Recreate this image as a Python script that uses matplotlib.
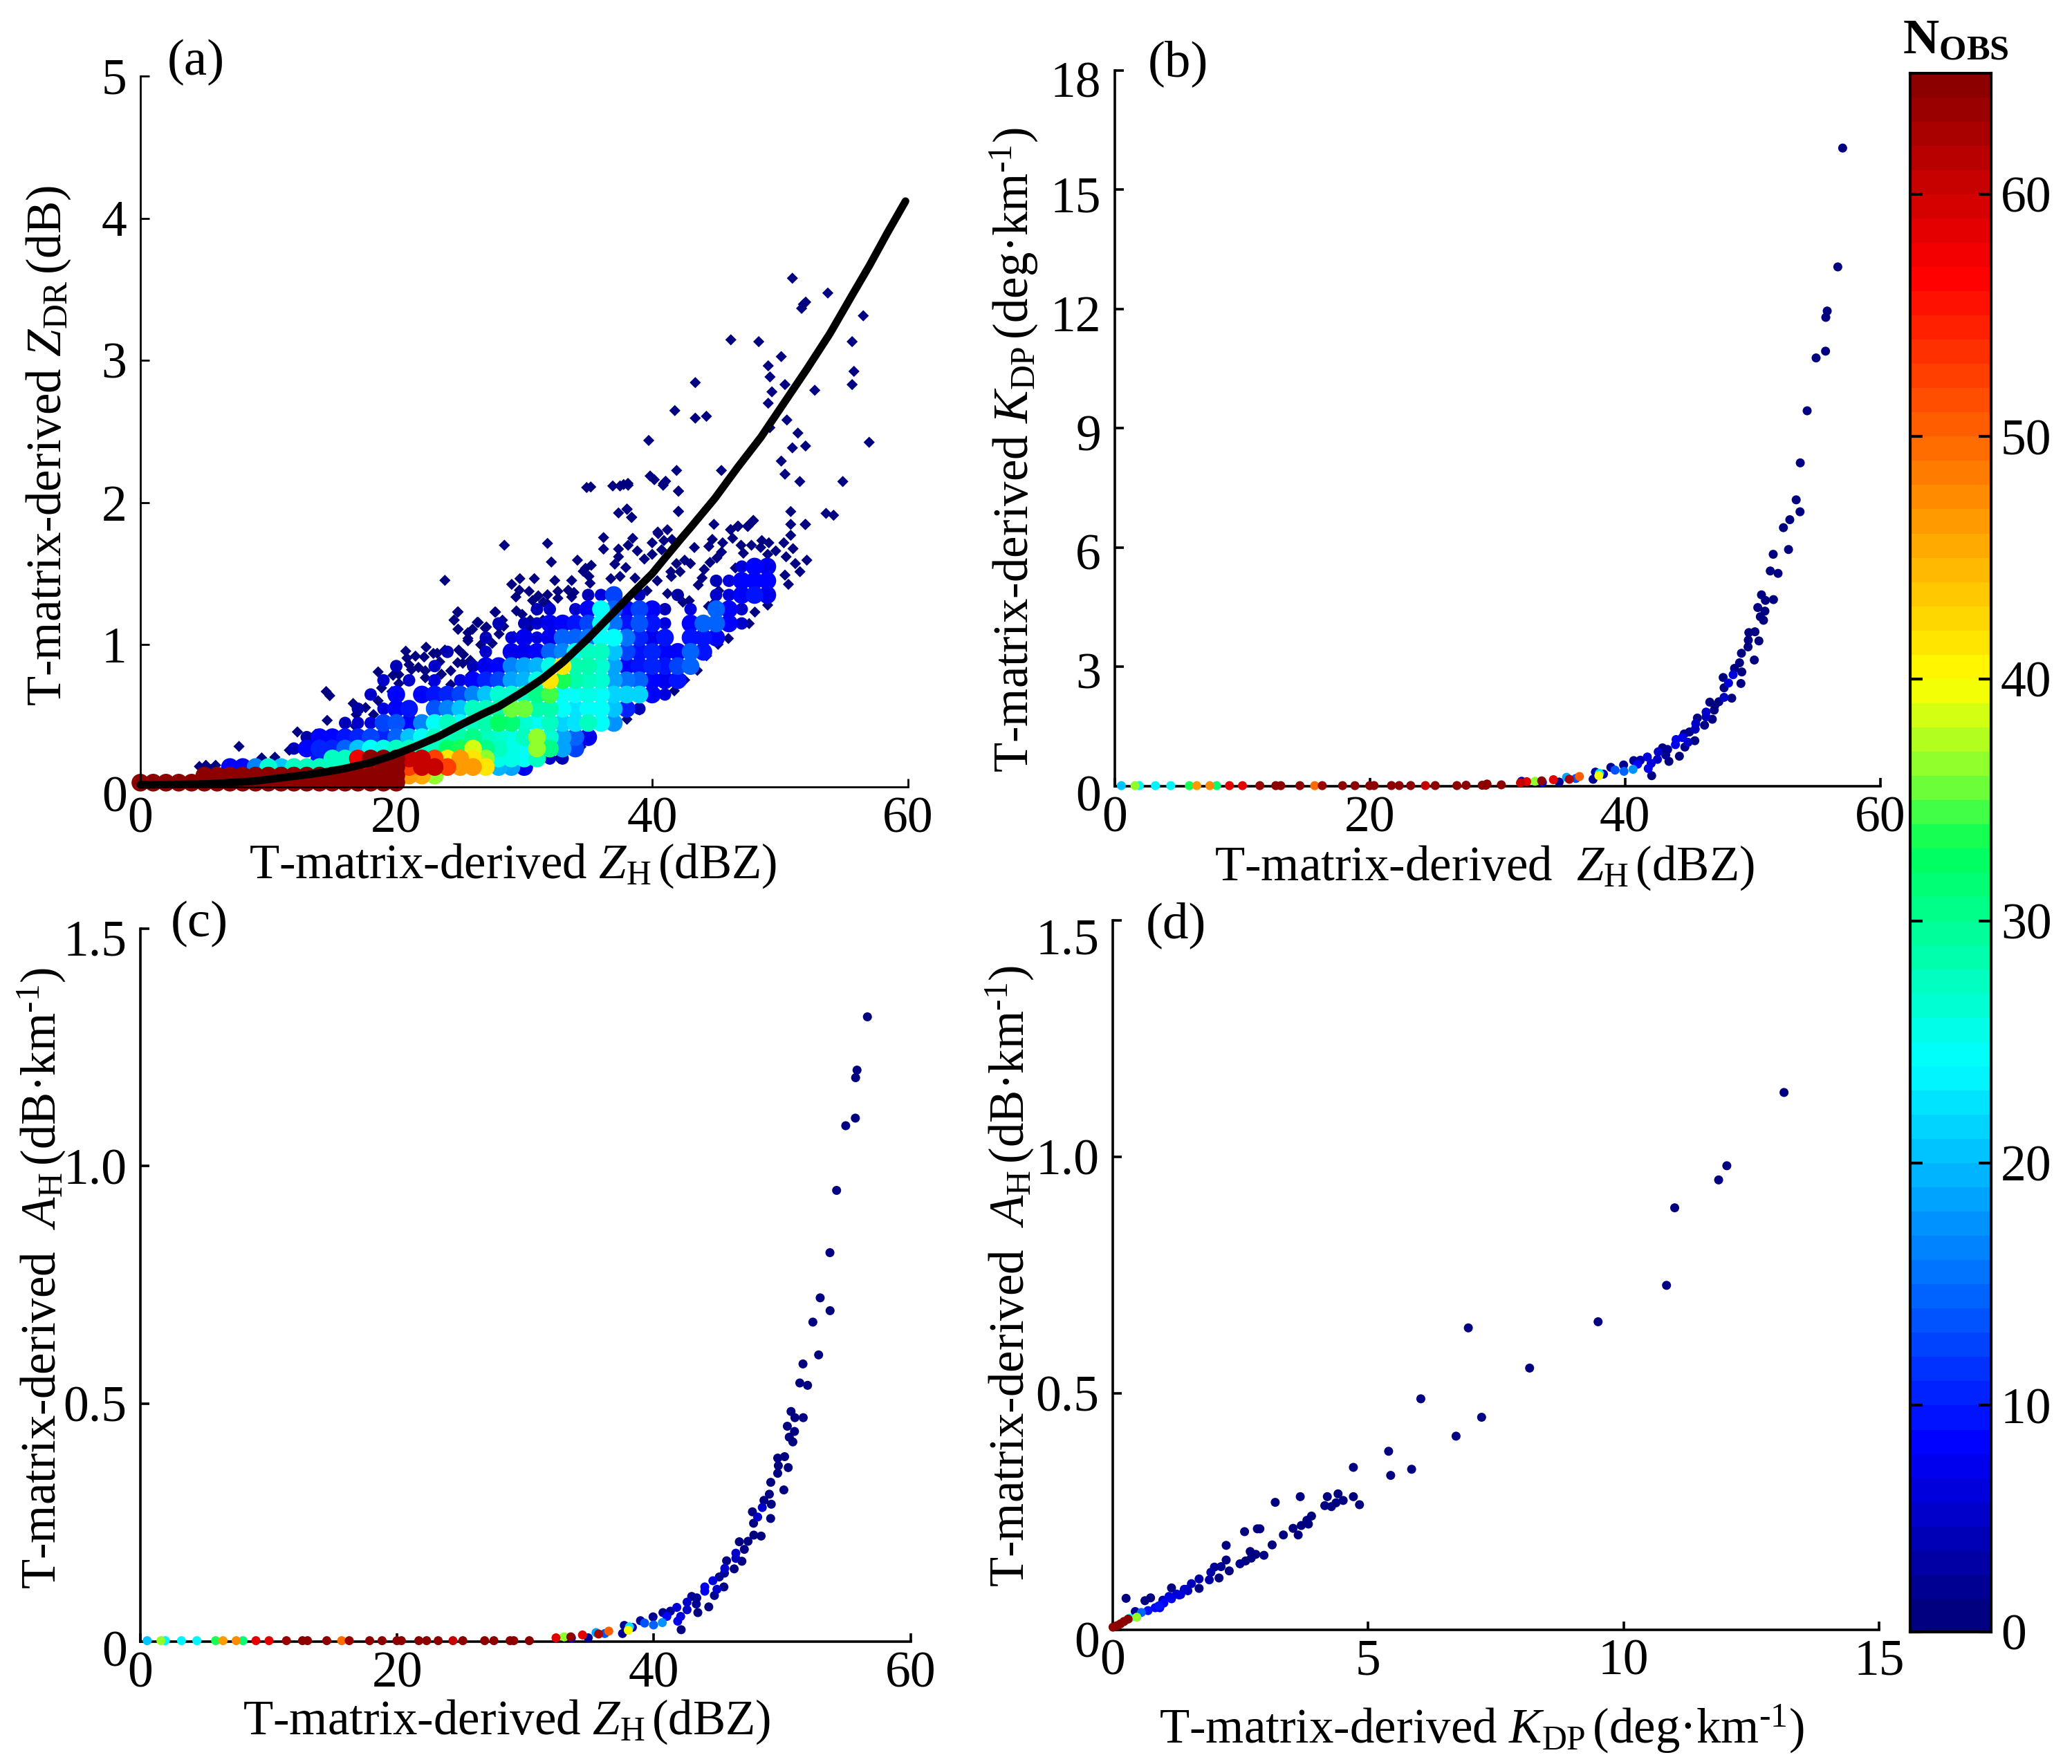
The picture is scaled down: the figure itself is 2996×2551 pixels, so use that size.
import numpy as np
import matplotlib
matplotlib.use('Agg')
import matplotlib.pyplot as plt
from matplotlib.colors import LinearSegmentedColormap
from matplotlib.transforms import ScaledTranslation

plt.rcParams['font.family'] = ['Liberation Serif', 'DejaVu Sans']
plt.rcParams['mathtext.fontset'] = 'custom'
plt.rcParams['mathtext.rm'] = 'Liberation Serif'
plt.rcParams['mathtext.it'] = 'Liberation Serif:italic'
plt.rcParams['mathtext.bf'] = 'Liberation Serif:bold'

W, H = 2996, 2551

# ---------- panel (a): mean relation ----------
curve_zh = [0, 5, 8.85, 10.65, 13.35, 14.8, 16, 17.9, 19.66, 21.5, 23.3, 25.1, 26.9, 28, 30, 31.4, 33, 35, 36.8, 38.6,
            40, 41, 42.2, 43.1, 44.9, 46.7, 48.5, 50.3, 52.1, 53.9, 55.7, 57, 58.4, 59.8]
curve_zdr = [.015, .02, .04, .06, .09, .11, .13, .169, .22, .285, .355, .44, .52, .565, .675, .76, .875, 1.045, 1.21,
             1.375, 1.5, 1.61, 1.74, 1.835, 2.03, 2.25, 2.46, 2.70, 2.94, 3.19, 3.47, 3.67, 3.90, 4.12]

# ---------- panel (a): dense cloud, NOBS read per 1 dBZ column along ZDR rows ----------
r01 = [65]*21
r02 = [65]*16 + [46, 45, 36]
r03 = [8, 8, 16, 26, 20, 27, 27, 27, 27, 27, 57, 57, 65, 65, 52, 60, 60, 52, 46, 46, 41, 19, 18, 7]
r04 = [9, 27, 27, 57, 65, 65, 65, 60, 60, 52, 41, 46, 41, 36, 25, 25, 24, 27, 5, 4]
r05 = [4, 8, 10, 10, 14, 20, 24, 25, 27, 27, 27, 27, 32, 33, 38, 30, 27, 25, 24, 36, 30, 18, 12]
r06 = [3, 8, 8, 9, 10, 12, 10, 14, 20, 24, 27, 27, 28, 30, 27, 26, 25, 27, 36, 26, 18, 14, 7]
r07 = [4, 5, 6, 12, 13, 8, 16, 24, 27, 24, 27, 28, 32, 31, 26, 24, 27, 21, 22, 27, 24, 17]
r08 = [3, 0, 6, 8, 9, 0, 13, 16, 20, 27, 27, 28, 35, 35, 28, 28, 24, 22, 24, 24, 20, 10, 4]
r09 = [5, 0, 8, 0, 8, 9, 10, 12, 16, 20, 26, 26, 27, 30, 34, 24, 24, 25, 24, 21, 21, 21, 8, 6]
r10 = [5, 0, 5, 0, 6, 0, 6, 8, 10, 12, 18, 19, 25, 41, 33, 28, 27, 26, 18, 15, 14, 8, 7, 9]
r11 = [4, 0, 0, 5, 0, 0, 4, 7, 8, 16, 18, 19, 25, 41, 28, 28, 26, 18, 8, 9, 10, 9, 12, 14]
r12 = [4, 0, 0, 5, 0, 7, 7, 8, 14, 16, 24, 27, 27, 20, 12, 9, 10, 8, 8, 14, 9]
r13 = [4, 0, 6, 7, 6, 7, 14, 14, 15, 24, 24, 15, 10, 7, 9, 0, 9, 9, 8]
r14 = [4, 0, 4, 5, 7, 8, 9, 12, 24, 15, 9, 13, 9, 6, 0, 8, 14, 14, 8, 5]
r15 = [4, 5, 0, 5, 8, 24, 14, 8, 12, 8, 4, 0, 6, 0, 14, 8, 5]
r16 = [4, 6, 12, 0, 4, 0, 0, 3, 0, 0, 5, 6, 8, 9, 7]
r17 = [4, 6, 8, 8, 8]
r18 = [6, 8, 7]
cloud_rows = [r01, r02, r03, r04, r05, r06, r07, r08, r09, r10, r11, r12, r13, r14, r15, r16, r17, r18]
cloud_zdr = [.03, .08, .14, .2, .27, .35, .45, .55, .65, .75, .85, .95, 1.05, 1.15, 1.25, 1.35, 1.45, 1.55]
cloud_zh0 = [0, 5, 7, 14, 12, 13, 16, 17, 18, 19, 20, 24, 27, 28, 31, 35, 45, 47]

# ---------- panel (a): sparse points (NOBS 1-2) ----------
sparse_zh = [50.96, 53.73, 52.0, 51.82, 51.68, 56.5, 46.15, 48.33, 55.63, 50.09, 49.07, 49.21, 55.77, 50.38, 55.63,
             43.37, 49.36, 52.71, 49.07, 41.77, 43.37, 44.24, 50.53, 49.2, 51.39, 39.73, 56.96, 50.96, 51.99, 50.09,
             41.91, 45.41, 50.38, 51.54, 54.9, 39.84, 40.17, 40.89, 41.05, 42.06, 38.11, 37.77, 38.04, 38.4, 42.06,
             50.83, 50.83, 51.99, 53.59, 54.18, 47.9, 47.45, 46.73, 46.13, 44.83, 41.19, 40.44,
             34.88, 35.2, 36.92, 37.49, 38.12, 40.86, 42.05, 38.03, 37.37, 38.39, 42.05, 47.91, 47.49, 46.68, 46.14,
             46.29, 40.47, 51.96, 50.83, 36.2, 36.2, 38.48, 38.84, 38.12, 37.37, 37.37, 28.45, 31.82, 32.12, 34.16,
             35.24, 34.79, 37.08, 37.94, 40.92, 41.55, 40.0, 40.74, 40.0, 39.39, 43.3, 44.43, 44.7, 45.51, 45.42,
             45.06, 44.52, 44.07, 42.54, 42.99, 41.9, 42.18, 41.46, 46.95, 47.76, 48.57, 49.12, 48.48, 50.29, 51.01,
             49.66, 49.03, 50.47, 47.13, 52.09, 51.19, 51.55, 50.38, 50.65, 49.03, 48.03, 47.58, 45.96, 45.15, 44.25,
             43.53, 42.54, 41.73, 40.38, 39.02, 38.03, 34.43, 32.72, 33.17,
             29.02, 29.66, 30.79, 32.39, 33.71, 30.38, 29.62, 29.35, 31.1, 30.65, 31.82, 31.82, 32.63, 32.63, 33.44,
             33.89, 33.71, 35.15, 35.06, 34.61, 36.77, 37.49, 38.66, 24.79, 24.52, 24.83, 27.76, 28.3, 28.03, 26.41,
             25.96, 26.95, 25.6, 29.39, 29.84, 30.92, 30.47, 31.46, 28.03,
             23.8, 24.83, 24.52, 24.83, 14.52, 14.8, 16.63, 14.6, 12.27, 7.71, 9.48, 10.51, 11.64, 12.63, 13.44,
             13.71, 14.7, 13.35, 15.97, 15.6, 4.61, 5.12, 5.88, 5.52, 7.01, 7.86, 8.49, 18.58, 19.75, 20.2, 18.85,
             19.66, 20.74, 20.83, 22.33, 22.18, 22.9, 23.8, 24.88, 25.79, 24.8, 25.25, 21.19, 21.73, 22.27, 22.27,
             22.9, 23.53, 24.26, 24.26, 25.79, 25.79, 26.33, 27.05, 25.6, 25.6, 27.71, 16.87, 16.78, 17.6, 18.58, 18.22,
             41.2, 42.4, 43.6, 40.4, 44.4, 45.2, 39.6, 41.5, 42.9, 43.9, 44.9, 46.5, 27.5, 29.2, 30.4, 26.6, 28.4, 31.5,
             23.4, 25.2, 26.9, 21.5, 23.2, 21.0, 20.2]
sparse_zdr = [3.578, 3.474, 3.41, 3.395, 3.366, 3.314, 3.145, 3.132, 3.132, 3.027, 2.962, 2.884, 2.923, 2.83, 2.83,
              2.844, 2.779, 2.79, 2.699, 2.647, 2.594, 2.607, 2.581, 2.527, 2.489, 2.437, 2.424, 2.385, 2.398, 2.292,
              2.226, 2.226, 2.2, 2.148, 2.148, 2.187, 2.161, 2.134, 2.15, 2.08, 2.135, 2.127, 1.952, 1.897, 1.937,
              1.937, 1.847, 1.847, 1.924, 1.911, 1.872, 1.834, 1.834, 1.809, 1.847, 1.809, 1.793,
              2.106, 2.11, 2.117, 2.117, 2.122, 2.122, 2.081, 1.955, 1.927, 1.895, 1.939, 1.875, 1.833, 1.833, 1.81,
              1.749, 1.781, 1.846, 1.77, 1.754, 1.673, 1.749, 1.66, 1.7, 1.673, 1.619, 1.7, 1.713, 1.582, 1.595,
              1.559, 1.538, 1.567, 1.543, 1.733, 1.741, 1.717, 1.668, 1.636, 1.603, 1.684, 1.692, 1.741, 1.717, 1.652,
              1.611, 1.579, 1.53, 1.595, 1.571, 1.571, 1.514, 1.514, 1.7, 1.7, 1.733, 1.717, 1.684, 1.717, 1.676,
              1.66, 1.636, 1.619, 1.644, 1.595, 1.571, 1.514, 1.49, 1.425, 1.279, 1.23, 1.149, 1.044, 1.003, .922,
              .82, .752, .676, .663, .541, .476, .282, .201, .257,
              1.425, 1.465, 1.465, 1.452, 1.452, 1.376, 1.384, 1.336, 1.344, 1.311, 1.352, 1.287, 1.376, 1.327, 1.384,
              1.368, 1.336, 1.433, 1.481, 1.517, 1.465, 1.481, 1.469, 1.23, 1.173, 1.109, 1.23, 1.173, 1.125, 1.157,
              1.109, 1.117, 1.044, 1.238, 1.214, 1.242, 1.173, 1.173, 1.076,
              1.453, 1.231, 1.174, 1.109, .671, .642, .587, .468, .387, .285, .204, .209, .258, .258, .347,
              .371, .355, .298, .387, .327, .144, .152, .152, .123, .136, .144, .133, .809, .785, .728, .696,
              .671, .955, .906, .983, .914, .939, .963, .963, .89, .874, .931, .825, .841, .817, .768,
              .728, .793, .817, .72, .785, .72, 1.158, 1.125, 1.085, 1.028, 1.23, .509, .428, .558, .606, .509,
              1.36, 1.3, 1.42, 1.45, 1.27, 1.38, 1.38, 1.48, 1.31, 1.47, 1.3, 1.54, 1.01, 1.06, 1.12, 1.0, 1.13, 1.3,
              .88, .87, .95, .92, .94, .86, .79]

# ---------- near-zero points shared by (b) and (c) ----------
low_zh = [.53, 1.6, 1.94, 3.2, 4.4, 5.86, 6.44, 7.46, 7.99, 9.0, 10.02, 11.38, 12.63, 13.02, 14.52, 15.68, 16.27,
          17.86, 18.83, 19.99, 20.33, 21.69, 22.3, 23.2, 24.35, 25.12, 26.82, 27.54, 28.8, 29.09, 30.3]
low_nobs = [20, 36, 23, 23, 23, 33, 46, 47, 31, 58, 58, 63, 64, 65, 65, 49, 63, 64, 64, 65, 65, 64, 64, 64, 60, 64,
            64, 64, 65, 65, 64]
low_kdp = [.01]*20 + [.012]*7 + [.02, .02, .02, .03]
low_ah = [.002]*31

# ---------- panel (b) ----------
b_zh = [57.04, 56.66, 55.83, 55.72, 55.7, 54.96, 54.26, 53.72, 53.4, 52.9, 53.7, 52.4, 52.8, 51.6, 51.37, 51.98, 50.68,
        50.99, 51.62, 50.39, 50.95,
        50.59, 50.84, 49.69, 50.17, 49.65, 50.48, 49.63, 49.11, 50.12, 48.96, 48.57, 49.14, 48.46, 47.68, 48.1, 49.07,
        47.75, 47.75, 48.35, 47.34, 46.63, 47.03, 46.98, 46.34, 46.34, 46.83, 45.66, 45.53, 46.22, 45.49, 45.04, 44.63,
        44.48, 43.99, 43.94, 44.93, 45.46, 44.68, 42.93, 43.33, 42.59, 43.18, 42.53, 43.43, 44.25, 41.74, 41.19, 40.67,
        40.98, 42.04, 41.81, 42.08, 39.88, 38.88, 39.21, 39.91, 40.62, 38.3, 37.67, 37.49, 37.98, 37.94, 36.42, 36.14,
        35.41, 35.63, 34.38, 34.83, 33.52, 33.46, 32.94, 32.29, 31.89, 31.8, 29.18]
b_kdp = [16.05, 13.06, 11.95, 11.79, 10.94, 10.77, 9.44, 8.13, 7.2, 6.7, 6.9, 6.5, 5.95, 5.83, 5.41, 5.35, 4.81,
         4.67, 4.69, 4.49, 4.40,
         4.26, 4.17, 3.86, 3.88, 3.67, 3.65, 3.50, 3.34, 3.17, 3.10, 2.96, 2.87, 2.80, 2.73, 2.59, 2.58,
         2.47, 2.23, 2.21, 2.12, 2.11, 2.03, 1.91, 1.86, 1.74, 1.68, 1.71, 1.57, 1.53, 1.43, 1.36, 1.31,
         1.22, 1.17, 1.04, 1.10, 1.14, .98, .96, .92, .86, .78, .67, .62, .75, .73, .65, .64,
         .55, .57, .44, .26, .53, .47, .40, .37, .42, .30, .35, .17, .32, .26, .24, .19,
         .22, .17, .16, .10, .09, .13, .12, .11, .12, .08, .05]
b_nobs = [1, 1, 1, 1, 1, 1, 1, 1, 1, 1, 1, 1, 1, 1, 1, 1, 1, 1, 1, 1, 1,
          1, 1, 1, 1, 1, 1, 1, 1, 1, 1, 1, 1, 6, 1, 6, 1,
          1, 5, 1, 1, 1, 1, 1, 5, 4, 1, 1, 5, 1, 4, 2, 2,
          7, 7, 7, 5, 1, 1, 1, 2, 5, 2, 5, 1, 1, 6, 3, 2,
          8, 6, 7, 1, 2, 2, 13, 14, 17, 4, 3, 2, 22, 39, 50, 13,
          18, 62, 58, 2, 6, 64, 36, 58, 4, 60, 65]

# ---------- panel (c) ----------
c_zh = [56.64, 55.83, 55.72, 55.7, 54.95, 54.24, 53.72, 52.96, 53.73, 52.39, 52.84, 51.62, 51.37, 51.98, 50.69, 50.99,
        51.64, 50.4, 50.96, 50.55, 50.83, 50.19, 49.65, 49.7, 50.47, 49.65, 49.11, 49.0, 50.13, 48.58, 49.15, 48.45,
        47.68, 48.09, 49.1, 47.77, 47.79, 48.36, 46.66, 47.34, 47.05, 46.39, 46.39, 46.86, 45.67, 45.53, 46.26, 45.5,
        45.1, 44.6, 43.97, 43.97, 44.92, 45.46, 44.72, 42.95, 43.35, 42.59, 44.28, 43.31, 42.59, 43.43, 41.79, 41.29,
        40.71, 41.02, 42.09, 41.86, 42.13, 39.94, 38.96, 39.28, 39.98, 40.66, 37.7, 38.33, 37.56, 38.1, 38.01, 36.49,
        36.18, 35.5, 35.7, 34.44, 34.89, 33.58, 33.53, 33.01, 32.38]
c_ah = [1.314, 1.202, 1.186, 1.101, 1.085, .949, .818, .723, .696, .672, .603, .584, .544, .539, .484, .471,
        .471, .453, .442, .43, .42, .389, .386, .37, .366, .354, .335, .31, .319, .297, .289, .282,
        .273, .262, .259, .249, .224, .222, .21, .211, .194, .186, .175, .169, .17, .154, .153, .144,
        .136, .128, .115, .106, .11, .115, .097, .095, .092, .083, .073, .079, .067, .061, .072, .064,
        .061, .053, .053, .043, .025, .052, .044, .039, .035, .04, .034, .03, .017, .031, .024, .022,
        .017, .019, .016, .014, .008, .008, .01, .01, .008]
c_nobs = [1, 1, 1, 1, 1, 1, 1, 1, 1, 1, 1, 1, 1, 1, 1, 1,
          1, 1, 1, 1, 1, 1, 1, 1, 1, 1, 1, 1, 1, 1, 1, 5,
          1, 5, 1, 1, 1, 1, 1, 1, 1, 5, 4, 1, 1, 5, 1, 2,
          2, 6, 7, 7, 5, 1, 2, 2, 2, 5, 1, 2, 5, 1, 6, 2,
          2, 8, 6, 7, 1, 2, 2, 13, 14, 17, 2, 4, 2, 22, 39, 50,
          13, 18, 62, 58, 2, 6, 64, 36, 58]

# ---------- panel (d) ----------
d_kdp = [13.14, 12.02, 11.86, 11.0, 10.84, 9.5, 6.96, 8.16, 6.03, 7.22, 6.72, 5.4, 4.71, 5.85, 5.44, 3.18, 3.67, 4.2,
         4.41, 4.71, 4.83, 4.15, 4.28, 4.37, 4.51, 3.89, 3.8, 3.69, 3.83, 3.53, 3.34, 3.63, 2.83, 2.88, 2.58, 3.12,
         2.22, 2.96, 2.8, 2.69, 2.71, 2.6, 2.49, 2.22, 2.28, 2.12, 1.99, 1.92, 2.08, 1.89, 1.69, 1.54, 1.69, 1.47,
         1.15, 1.33, 1.1, .92, .26, .63, .74, .98, 1.25, 1.4, 1.45, 1.3, 1.15, 1.0, .9,
         .83, .69, .56, .44, .47, .33, .30, .22, .15, .08, .005]
d_ah = [1.136, .981, .951, .892, .728, .651, .638, .553, .488, .449, .409, .377, .343, .339, .326, .269, .281, .281,
        .287, .281, .264, .262, .26, .268, .273, .24, .231, .22, .223, .214, .2, .2, .213, .213, .207, .179,
        .178, .157, .159, .165, .151, .145, .139, .147, .124, .133, .132, .121, .109, .105, .107, .097, .087, .082,
        .088, .074, .07, .046, .066, .061, .067, .062, .075, .085, .085, .073, .065, .056, .05,
        .046, .04, .036, .038, .026, .024, .022, .017, .012, .008, .005]
d_nobs = [1]*42 + [2, 1, 1, 2, 2, 3, 1, 3, 3, 4, 1, 4, 1, 5, 6, 7, 1, 1, 1, 3, 5, 5, 4, 6, 7, 8, 9,
                   8, 9, 14, 2, 36, 24, 65, 65, 65, 65, 65]

cbar_ticks = [0.65, 10, 20, 30, 40, 50, 60]
cbar_labels = ['0', '10', '20', '30', '40', '50', '60']
NOBS_MIN, NOBS_MAX = 1, 65

anchors = [(0, (0, 0, .5)), (7 / 64, (0, 0, 1)), (23 / 64, (0, 1, 1)), (32 / 64, (0, 1, .35)), (35 / 64, (.5, 1, .2)),
           (39 / 64, (1, 1, 0)), (56 / 64, (1, 0, 0)), (1, (.55, 0, 0))]
cmap = LinearSegmentedColormap.from_list('nobs', anchors, N=64)
norm = plt.Normalize(NOBS_MIN, NOBS_MAX)


def axes_px(left, right, top, bottom):
    return fig.add_axes([left / W, 1 - bottom / H, (right - left) / W, (bottom - top) / H])


def style(ax, xlim, ylim, xt, yt, ytl=None, lw=1.3, shifts=None):
    ax.set_xlim(*xlim)
    ax.set_ylim(*ylim)
    ax.set_xticks(xt)
    ax.set_yticks(yt)
    if ytl:
        ax.set_yticklabels(ytl)
    for s in ('top', 'right'):
        ax.spines[s].set_visible(False)
    for s in ('left', 'bottom'):
        ax.spines[s].set_linewidth(lw)
    ax.tick_params(direction='in', length=4.5, width=lw, labelsize=26.5, pad=5)
    ax.tick_params(axis='y', pad=7)
    for lab, off in zip(ax.get_yticklabels(), shifts):
        lab.set_transform(lab.get_transform() + ScaledTranslation(0, -off / 200, fig.dpi_scale_trans))


def dots(ax, x, y, n):
    x, y, n = np.asarray(x), np.asarray(y), np.asarray(n)
    o = np.argsort(n, kind='stable')
    ax.scatter(x[o], y[o], c=n[o], cmap=cmap, norm=norm, s=22, marker='o', linewidths=0, clip_on=False, zorder=3)


def ftext(x, y, s, **kw):
    kw.setdefault('ha', 'center')
    kw.setdefault('va', 'center')
    kw.setdefault('fontsize', 25.5)
    fig.text(x / W, 1 - y / H, s, **kw)


fig = plt.figure(figsize=(W / 200, H / 200), dpi=200)

# (a)
axa = axes_px(203, 1313, 110, 1138)
style(axa, (0, 60), (0, 5), [0, 20, 40, 60], [0, 1, 2, 3, 4, 5], lw=1.0, shifts=[10, 0, 0, 0, 0, 0])
cell_x, cell_y, cell_n = [], [], []
for row, z, start in zip(cloud_rows, cloud_zdr, cloud_zh0):
    for i, v in enumerate(row):
        if v > 0:
            cell_x.append(start + i)
            cell_y.append(z)
            cell_n.append(v)
cell_x, cell_y, cell_n = np.array(cell_x), np.array(cell_y), np.array(cell_n)
order = np.argsort(cell_n, kind='stable')
cell_size = np.where(cell_n[order] <= 6, 42, 85)
axa.scatter(sparse_zh, sparse_zdr, c=[1.8] * len(sparse_zh), cmap=cmap, norm=norm, s=17, marker='D', linewidths=0,
            clip_on=False, zorder=2)
axa.scatter(cell_x[order], cell_y[order], c=cell_n[order], cmap=cmap, norm=norm, s=cell_size, marker='o', linewidths=0,
            clip_on=False, zorder=2.5)
axa.plot(curve_zh, curve_zdr, color='k', lw=4, solid_capstyle='round', solid_joinstyle='round', clip_on=False, zorder=4)

# (b)
axb = axes_px(1611.6, 2719, 102, 1136.7)
style(axb, (0, 60), (0, 18), [0, 20, 40, 60], [0, 3, 6, 9, 12, 15, 18], shifts=[10, 6, 6, 6, 6, 6, 13])
dots(axb, low_zh + b_zh, low_kdp + b_kdp, low_nobs + b_nobs)

# (c)
axc = axes_px(203, 1316.6, 1342.6, 2374)
style(axc, (0, 60), (0, 1.5), [0, 20, 40, 60], [0, .5, 1, 1.5], ['0', '0.5', '1.0', '1.5'], shifts=[10, 0, 0, 13])
dots(axc, low_zh + c_zh, low_ah + c_ah, low_nobs + c_nobs)

# (d)
axd = axes_px(1609, 2717, 1331, 2356.5)
style(axd, (0, 15), (0, 1.5), [0, 5, 10, 15], [0, .5, 1, 1.5], ['0', '0.5', '1.0', '1.5'], shifts=[14, 0, 0, 23])
dots(axd, d_kdp, d_ah, d_nobs)

# colour bar
cax = axes_px(2762, 2879, 106, 2360)
levels = np.array([cbar_ticks[0]] + list(range(NOBS_MIN + 1, NOBS_MAX + 1)))
cax.pcolormesh([0, 1], levels, np.arange(NOBS_MIN, NOBS_MAX).reshape(-1, 1), cmap=cmap, norm=norm)
cax.set_xticks([])
cax.set_yticks(cbar_ticks)
cax.set_yticklabels(cbar_labels)
cax.tick_params(axis='y', direction='in', left=True, right=True, labelleft=False, labelright=True,
                length=6.5, width=1.5, labelsize=26.5, pad=5)
for s in cax.spines.values():
    s.set_linewidth(1.5)

# text
ftext(283, 90, '(a)', fontsize=27)
ftext(1703, 92, '(b)', fontsize=27)
ftext(288, 1336, '(c)', fontsize=27)
ftext(1700, 1338, '(d)', fontsize=27)
ftext(742, 1252, r'T-matrix-derived $Z_{\mathrm{H}}$$\,$(dBZ)')
ftext(2146, 1255, r'T-matrix-derived  $Z_{\mathrm{H}}$$\,$(dBZ)')
ftext(733, 2490, r'T-matrix-derived $Z_{\mathrm{H}}$$\,$(dBZ)')
ftext(2142, 2500, r'T-matrix-derived $K_{\mathrm{DP}}$$\,$(deg·km$^{\text{-}1}$)')
ftext(70, 645, r'T-matrix-derived $Z_{\mathrm{DR}}$$\,$(dB)', rotation=90)
ftext(1466, 651, r'T-matrix-derived $K_{\mathrm{DP}}$$\,$(deg·km$^{\text{-}1}$)', rotation=90)
ftext(60, 1848, r'T-matrix-derived  $A_{\mathrm{H}}$$\,$(dB·km$^{\text{-}1}$)', rotation=90)
ftext(1460, 1845, r'T-matrix-derived  $A_{\mathrm{H}}$$\,$(dB·km$^{\text{-}1}$)', rotation=90)
ftext(2828, 60, r'$\mathbf{N_{OBS}}$', fontsize=26)

fig.savefig('out.png', dpi=200, facecolor='white')
